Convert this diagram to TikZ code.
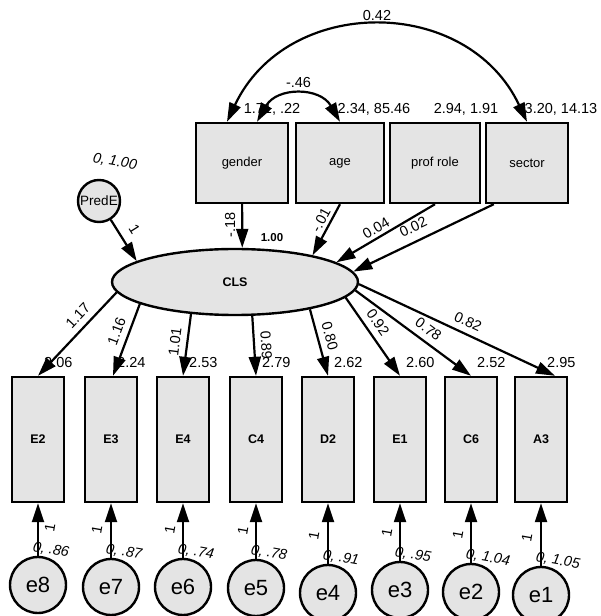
\documentclass[tikz,border=0pt]{standalone}
\usepackage{fontspec}
\setmainfont{Liberation Sans}
\usetikzlibrary{arrows.meta,calc,shapes.geometric}
\definecolor{semfill}{RGB}{228,228,228}
\begin{document}
\begin{tikzpicture}[x=1pt, y=1pt,
  semobs/.style = {draw, line width=2.4pt, fill=semfill, minimum height=80pt, font=\fontsize{13}{15}\selectfont},
  semind/.style = {draw, line width=2.4pt, fill=semfill, minimum width=52pt, minimum height=125pt, font=\fontsize{12.5}{14}\selectfont\bfseries},
  semlat/.style = {ellipse, draw, line width=2.4pt, fill=semfill, minimum width=246pt, minimum height=66pt, font=\fontsize{12.5}{14}\selectfont\bfseries},
  semerr/.style = {circle, draw, line width=2.4pt, fill=semfill, minimum size=56pt, inner sep=0pt, font=\fontsize{22}{24}\selectfont},
  sempath/.style = {line width=2.2pt, -{Triangle[length=19pt, width=12pt]}},
  semcov/.style = {line width=2.2pt, {Triangle[length=19pt, width=12pt]}-{Triangle[length=19pt, width=12pt]}},
  semnum/.style = {font=\fontsize{14.5}{16}\selectfont, inner sep=1pt},
  semvar/.style = {font=\fontsize{14.5}{16}\selectfont\itshape, inner sep=1pt}
]
  \useasboundingbox (0,0) rectangle (601,616);
  % exogenous observed variables
  \node[semobs, minimum width=92pt] (gender) at (242,453) {gender};
  \node[semobs, minimum width=88pt] (age) at (340,453) {age};
  \node[semobs, minimum width=90pt] (prof) at (435,453) {prof role};
  \node[semobs, minimum width=82pt] (sector) at (527,453) {sector};
  \node[semnum, anchor=base] at ($(gender.north)+(30,8)$) {1.71, .22};
  \node[semnum, anchor=base] at ($(age.north)+(34,8)$) {2.34, 85.46};
  \node[semnum, anchor=base] at ($(prof.north)+(31,8)$) {2.94, 1.91};
  \node[semnum, anchor=base] at ($(sector.north)+(34,8)$) {3.20, 14.13};
  % latent factor and predictor
  \node[semerr, minimum size=42pt, font=\fontsize{13.5}{15}\selectfont] (PredE) at (99,415) {PredE};
  \node[semvar, rotate=-10] at ($(PredE.north)+(16,17)$) {0, 1.00};
  \node[semlat] (CLS) at (235,334) {CLS};
  \node[font=\fontsize{11.5}{13}\selectfont\bfseries] at ($(CLS.north)+(37,10)$) {1.00};
  % indicators with their errors
  \foreach \ind/\xx/\icpt/\err/\ey/\evar/\lx in {E2/38/2.06/e8/31/.86/12, E3/111/2.24/e7/29/.87/-14,
      E4/183/2.53/e6/29/.74/-13, C4/256/2.79/e5/28/.78/-13, D2/328/2.62/e4/23/.91/-14,
      E1/400/2.60/e3/26/.95/-13, C6/471/2.52/e2/24/1.04/-13, A3/541/2.95/e1/21/1.05/-14} {
    \node[semind] (\ind) at (\xx,176.5) {\ind};
    \node[semnum, anchor=base west] at ($(\ind.north)+(5,8)$) {\icpt};
    \node[semerr] (\err) at (\xx,\ey) {\err};
    \node[semvar, anchor=west, rotate=-10] at ($(\err.north)+(-6,9)$) {0, \evar};
    \node[semnum, rotate=80] at ($(\err.north)+(\lx,28)$) {1};
    \draw[sempath] (\err) -- (\ind);
  }
  % loadings
  \foreach \ind/\ang/\ld/\lpos/\tdx in {E2/185/1.17/0.38/0, E3/193/1.16/0.44/2, E4/216/1.01/0.48/0,
      C4/297/0.89/0.5/0, D2/340/0.80/0.45/0, E1/352/0.92/0.41/0, C6/356/0.78/0.57/0, A3/359/0.82/0.53/14}
    \draw[sempath] (CLS.\ang) -- ($(\ind.north)+(\tdx,0)$) node[semnum, pos=\lpos, sloped, above=5pt] {\ld};
  % regressions on CLS
  \draw[sempath] (gender) -- (CLS.78);
  \node[semnum, rotate=90] at ($(gender.south)!0.48!(CLS.78)+(-12,0)$) {-.18};
  \draw[sempath] (age.south) -- (CLS.19) node[semnum, pos=0.4, sloped, above=2pt] {-.01};
  \draw[sempath] (prof.south) -- (CLS.11) node[semnum, pos=0.55, sloped, above=2pt] {0.04};
  \draw[sempath] ($(sector.south west)+(9,0)$) -- (CLS.5) node[semnum, pos=0.53, sloped, above=7pt] {0.02};
  \draw[sempath] (PredE) -- (CLS.168) node[semnum, pos=0.42, sloped, above=8pt] {1};
  % covariances
  \draw[semcov] ($(gender.north)+(-15,0)$) .. controls +(60,127) and +(-60,127) .. (sector.north)
    node[semnum, pos=0.5, above=4pt] {0.42};
  \draw[semcov] ($(gender.north)+(15,0)$) .. controls +(20,35) and +(-20,35) .. (age.north)
    node[semnum, pos=0.5, above=6pt] {-.46};
\end{tikzpicture}
\end{document}
